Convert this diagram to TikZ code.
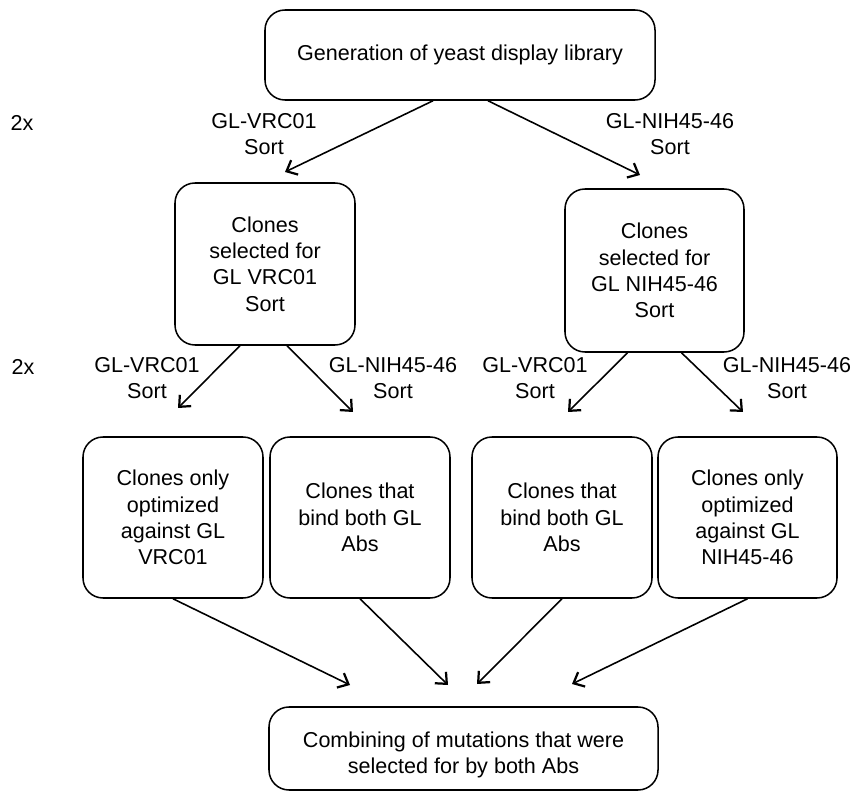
\documentclass[tikz,border=0pt]{standalone}
\usepackage{fontspec}
\setmainfont{Liberation Sans}
\usetikzlibrary{calc,arrows.meta}

\tikzset{
  stepbox/.style={draw, line width=1.3pt, rounded corners=0.6cm, align=center, inner sep=0pt},
  flowarrow/.style={-{Straight Barb[length=2.7mm,width=4.8mm,line width=1.9pt]}, line width=1.35pt},
  sortlabel/.style={align=center, inner sep=0pt}
}

\begin{document}
\begin{tikzpicture}[x=0.03cm, y=-0.03cm, font=\fontsize{18.4}{22.4}\selectfont]
  % canvas in pixel units of the scan (y pointing down)
  \useasboundingbox (0,0) rectangle (856,796);

  % boxes
  \node[stepbox, minimum width=11.7cm, minimum height=2.7cm] (top) at (460,55)
    {Generation of yeast display library};
  \node[stepbox, minimum width=5.4cm, minimum height=4.86cm] (midL) at (265,264)
    {Clones\\selected for\\GL VRC01\\Sort};
  \node[stepbox, minimum width=5.37cm, minimum height=4.89cm] (midR) at (654.5,270.5)
    {Clones\\selected for\\GL NIH45-46\\Sort};

  \node[stepbox, minimum width=5.4cm, minimum height=4.83cm] (onlyVRC) at (173,517.5)
    {Clones only\\optimized\\against GL\\VRC01};
  \node[stepbox, minimum width=5.4cm, minimum height=4.83cm] (bothL) at (360,517.5)
    {Clones that\\bind both GL\\Abs};
  \node[stepbox, minimum width=5.4cm, minimum height=4.83cm] (bothR) at (562,517.5)
    {Clones that\\bind both GL\\Abs};
  \node[stepbox, minimum width=5.37cm, minimum height=4.83cm] (onlyNIH) at (747.5,517.5)
    {Clones only\\optimized\\against GL\\NIH45-46};

  % text sits a little low in this box
  \node[stepbox, minimum width=11.67cm, minimum height=2.49cm] (combine) at (463.5,748.5)
    {\rule{0pt}{24pt}Combining of mutations that were\\selected for by both Abs};

  % sort labels
  \node[sortlabel] (rounds1) at (22,123) {2x};
  \node[sortlabel] (rounds2) at (23,367) {2x};
  \node[sortlabel] (sortA) at (264,134) {GL-VRC01\\Sort};
  \node[sortlabel] (sortB) at (670,134) {GL-NIH45-46\\Sort};
  \node[sortlabel] (sortC) at (147,378) {GL-VRC01\\Sort};
  \node[sortlabel] (sortD) at (393,378) {GL-NIH45-46\\Sort};
  \node[sortlabel] (sortE) at (535,378) {GL-VRC01\\Sort};
  \node[sortlabel] (sortF) at (787,378) {GL-NIH45-46\\Sort};

  % free ends of the arrows
  \coordinate (tipL) at (285,172);
  \coordinate (tipR) at (640,175);
  \coordinate (tipC) at (178,408);
  \coordinate (tipD) at (353,412);
  \coordinate (tipE) at (568,412);
  \coordinate (tipF) at (743,412);
  \coordinate (endA) at (350,685);
  \coordinate (endB) at (448,685);
  \coordinate (endC) at (477,684);
  \coordinate (endD) at (572,684);

  % first sort
  \draw[flowarrow] ($(top.south)+(-27,0)$) -- (tipL);
  \draw[flowarrow] ($(top.south)+(28,0)$) -- (tipR);

  % second sort
  \draw[flowarrow] ($(midL.south)+(-25,0)$) -- (tipC);
  \draw[flowarrow] ($(midL.south)+(22,0)$) -- (tipD);
  \draw[flowarrow] ($(midR.south)+(-27,0)$) -- (tipE);
  \draw[flowarrow] ($(midR.south)+(27,0)$) -- (tipF);

  % into the combined set
  \draw[flowarrow] (onlyVRC.south) -- (endA);
  \draw[flowarrow] (bothL.south) -- (endB);
  \draw[flowarrow] (bothR.south) -- (endC);
  \draw[flowarrow] (onlyNIH.south) -- (endD);
\end{tikzpicture}
\end{document}
